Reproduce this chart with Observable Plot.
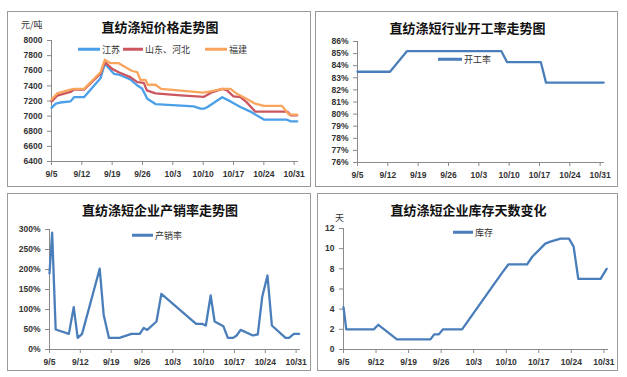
<!DOCTYPE html>
<html>
<head>
<meta charset="utf-8">
<script src="https://cdn.jsdelivr.net/npm/d3@7"></script>
<script src="https://cdn.jsdelivr.net/npm/@observablehq/plot@0.6"></script>
<style>
  html, body { margin: 0; padding: 0; background: #fff; }
  body { width: 627px; height: 377px; position: relative; overflow: hidden; }
  .frame { position: absolute; box-sizing: border-box; border: 1px solid #9a9a9a; }
  .plot { position: absolute; }
  .title { position: absolute; font-family: "Noto Sans CJK SC", sans-serif; font-weight: bold; font-size: 13px; color: #111; white-space: nowrap; transform: translate(-50%, -50%); line-height: 1; }
  .unit, .leg { position: absolute; font-family: "Noto Sans CJK SC", sans-serif; font-size: 9px; color: #333; white-space: nowrap; line-height: 1; transform: translateY(-50%); }
  .sw { position: absolute; height: 2.5px; transform: translateY(-50%); }
</style>
</head>
<body>
<script>
// ---- Shared x axis: day offsets from 9/5 ----
const xTicks = [0, 7, 14, 21, 28, 35, 42, 49, 56];
const xTickLabels = ["9/5", "9/12", "9/19", "9/26", "10/3", "10/10", "10/17", "10/24", "10/31"];

// ---- Panel 1: 直纺涤短价格走势图 (元/吨) ----
const priceSeries = ["江苏", "山东、河北", "福建"];
const jsDays = [0, 1, 2, 4.4, 5.2, 7.5, 11.3, 12.3, 13, 14.4, 15.5, 18.2, 19.8, 20.9, 22.1, 24, 32.8, 34.4, 35.3, 36, 39.4, 41.3, 43.6, 45.9, 49, 54.2, 55.2, 56.7];
const jsPrice = [7110, 7165, 7180, 7195, 7250, 7250, 7500, 7690, 7650, 7560, 7550, 7485, 7405, 7365, 7230, 7160, 7130, 7100, 7100, 7120, 7250, 7195, 7120, 7060, 6955, 6955, 6930, 6930];
const sdDays = [0, 1.3, 4.4, 5.2, 7.5, 11.3, 12.3, 14, 15.5, 18.2, 19.8, 21.3, 22, 24, 29.8, 35.2, 37, 39.4, 40.5, 42, 43.6, 45, 47, 54.4, 55.2, 56.7];
const sdPrice = [7190, 7270, 7320, 7350, 7350, 7560, 7715, 7625, 7580, 7515, 7450, 7440, 7340, 7300, 7275, 7255, 7315, 7360, 7340, 7260, 7250, 7185, 7060, 7060, 7010, 7010];
const fjDays = [0, 1.3, 4.4, 5.2, 7.5, 11.3, 12.3, 13.6, 15.5, 18.5, 19.8, 20.5, 21.7, 22.2, 24, 25.3, 35, 37, 39.4, 41.3, 42.8, 45, 47, 49, 53.2, 54.8, 56.7];
const fjPrice = [7220, 7300, 7350, 7360, 7360, 7580, 7745, 7700, 7700, 7600, 7580, 7480, 7480, 7415, 7415, 7360, 7310, 7330, 7360, 7360, 7295, 7230, 7165, 7135, 7135, 7020, 7020];
const priceTicks = [6400, 6600, 6800, 7000, 7200, 7400, 7600, 7800, 8000];

// ---- Panel 2: 开工率 (%) ----
const rateDays = [0, 7.5, 11.4, 33.2, 34.5, 42.3, 43.5, 56.8];
const rateValues = [83.5, 83.5, 85.2, 85.2, 84.3, 84.3, 82.6, 82.6];
const rateTicks = [76, 77, 78, 79, 80, 81, 82, 83, 84, 85, 86];

// ---- Panel 3: 产销率 (%) ----
const psDays = [0, 0.6, 1.4, 4.4, 5.5, 6.4, 7.4, 11.4, 12.3, 13.5, 15.9, 18.6, 20.5, 21.4, 22.2, 24.3, 25.4, 33.3, 34.7, 35.5, 36.6, 37.5, 39.5, 40.5, 41.7, 42.5, 43.4, 46.2, 47.3, 48.3, 49.5, 50.5, 53.6, 54.4, 55.5, 56.7];
const psValues = [190, 292, 50, 39, 106, 29, 39, 202, 87, 29, 29, 39, 39, 54, 49, 70, 139, 64, 64, 60, 135, 70, 58, 29, 29, 35, 49, 35, 38, 131, 185, 60, 29, 29, 39, 39];
const psTicks = [0, 50, 100, 150, 200, 250, 300];

// ---- Panel 4: 库存天数 (天) ----
const invDays = [0, 0.6, 6.5, 7.5, 11.5, 18.7, 19.5, 20.5, 21.4, 25.5, 34.1, 35.5, 39.5, 40.6, 41.7, 43.4, 44.5, 46.7, 48.5, 49.5, 50.5, 55.3, 56.6];
const invValues = [4.2, 2, 2, 2.45, 1, 1, 1.5, 1.5, 2, 2, 7.6, 8.45, 8.45, 9.2, 9.7, 10.5, 10.7, 11, 11, 10.2, 7, 7, 8];
const invTicks = [0, 2, 4, 6, 8, 10, 12];

// ---------------------------------------------------------------
const AXIS = "#8a8a8a";
const body = document.body;

function addEl(cls, css, text) {
  const el = document.createElement("div");
  el.className = cls;
  Object.assign(el.style, css);
  if (text != null) el.textContent = text;
  body.appendChild(el);
  return el;
}

function makePanel(p) {
  addEl("frame", {left: p.x + "px", top: p.y + "px", width: p.w + "px", height: p.h + "px"});
  const chart = Plot.plot({
    width: p.w, height: p.h,
    marginLeft: p.ml, marginRight: p.mr, marginTop: p.mt, marginBottom: p.mb,
    x: {domain: [0, 57], axis: null},
    y: {domain: p.yDomain, axis: null},
    style: {fontFamily: "'Liberation Sans', Arial, sans-serif", fontSize: "8.5px", fontWeight: "bold", color: "#333", background: "transparent", overflow: "visible"},
    marks: [
      Plot.axisY({ticks: p.yTicks, tickSize: 4, tickPadding: 5, tickFormat: p.yFormat, stroke: AXIS, label: null}),
      Plot.axisX({ticks: xTicks, tickSize: 4, tickPadding: 5, tickFormat: d => xTickLabels[xTicks.indexOf(d)], stroke: AXIS, label: null}),
      Plot.ruleX([0], {stroke: AXIS}),
      Plot.ruleY([p.yDomain[0]], {stroke: AXIS}),
      ...p.series.map(s => Plot.line(s.days.map((d, i) => ({d, v: s.values[i]})), {x: "d", y: "v", stroke: s.color, strokeWidth: 2.3, strokeLinejoin: "round"}))
    ]
  });
  const holder = addEl("plot", {left: p.x + "px", top: p.y + "px", width: p.w + "px", height: p.h + "px"});
  holder.appendChild(chart);
  addEl("title", {left: (p.x + p.w / 2 + 1) + "px", top: p.ty + "px"}, p.title);
  if (p.unit) addEl("unit", {left: p.unit.x + "px", top: p.unit.y + "px"}, p.unit.text);
  p.legend.forEach(l => {
    addEl("sw", {left: l.x1 + "px", top: l.y + "px", width: (l.x2 - l.x1) + "px", background: l.color});
    addEl("leg", {left: (l.x2 + 2) + "px", top: l.y + "px"}, l.label);
  });
}

const C_JS = "#4a9fe8", C_SD = "#cb5660", C_FJ = "#f9a55e", C_MAIN = "#4a7ebb";

makePanel({
  x: 7, y: 11, w: 304, h: 176, ml: 44, mr: 13, mt: 29, mb: 26,
  yDomain: [6400, 8000], yTicks: priceTicks, yFormat: d => String(d),
  series: [
    {days: jsDays, values: jsPrice, color: C_JS},
    {days: sdDays, values: sdPrice, color: C_SD},
    {days: fjDays, values: fjPrice, color: C_FJ}
  ],
  title: "直纺涤短价格走势图", ty: 26,
  unit: {x: 21, y: 24, text: "元/吨"},
  legend: [
    {x1: 78, x2: 100, y: 49, color: C_JS, label: priceSeries[0]},
    {x1: 123, x2: 143, y: 49, color: C_SD, label: priceSeries[1]},
    {x1: 205, x2: 227, y: 49, color: C_FJ, label: priceSeries[2]}
  ]
});

makePanel({
  x: 315, y: 11, w: 303, h: 176, ml: 42, mr: 14, mt: 30, mb: 25,
  yDomain: [76, 86], yTicks: rateTicks, yFormat: d => d + "%",
  series: [{days: rateDays, values: rateValues, color: C_MAIN}],
  title: "直纺涤短行业开工率走势图", ty: 27,
  legend: [{x1: 438, x2: 462, y: 59, color: C_MAIN, label: "开工率"}]
});

makePanel({
  x: 7, y: 193, w: 304, h: 178, ml: 42, mr: 11, mt: 36, mb: 22,
  yDomain: [0, 300], yTicks: psTicks, yFormat: d => d + "%",
  series: [{days: psDays, values: psValues, color: C_MAIN}],
  title: "直纺涤短企业产销率走势图", ty: 209,
  legend: [{x1: 132, x2: 153, y: 235, color: C_MAIN, label: "产销率"}]
});

makePanel({
  x: 317, y: 193, w: 301, h: 178, ml: 26, mr: 10, mt: 35, mb: 22,
  yDomain: [0, 12], yTicks: invTicks, yFormat: d => String(d),
  series: [{days: invDays, values: invValues, color: C_MAIN}],
  title: "直纺涤短企业库存天数变化", ty: 209,
  unit: {x: 335, y: 217, text: "天"},
  legend: [{x1: 453, x2: 473, y: 232, color: C_MAIN, label: "库存"}]
});
</script>
</body>
</html>
